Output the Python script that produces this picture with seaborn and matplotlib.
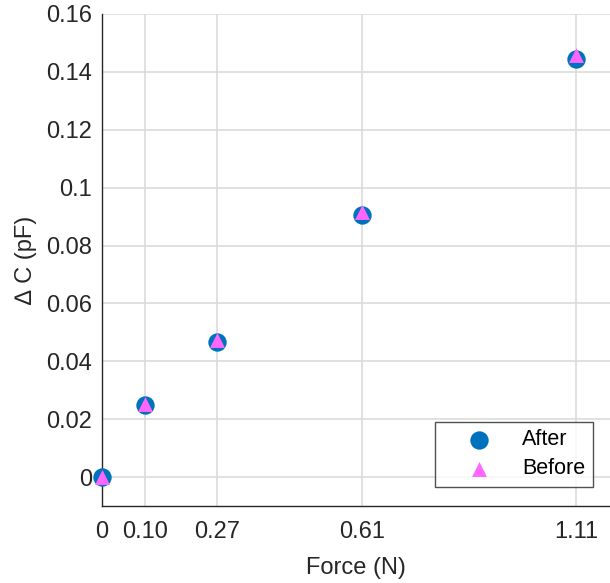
import matplotlib
matplotlib.use("Agg")
import matplotlib.pyplot as plt
import seaborn as sns
import pandas as pd

force = [0.0, 0.10, 0.27, 0.61, 1.11]
after = [0.0, 0.0249, 0.0468, 0.0906, 0.1445]
before = [0.0, 0.0252, 0.0472, 0.0915, 0.1460]
xticks = [0, 0.10, 0.27, 0.61, 1.11]
xticklabels = ["0", "0.10", "0.27", "0.61", "1.11"]
yticks = [0, 0.02, 0.04, 0.06, 0.08, 0.1, 0.12, 0.14, 0.16]
yticklabels = ["0", "0.02", "0.04", "0.06", "0.08", "0.1", "0.12", "0.14", "0.16"]

sns.set_style("white")
plt.rcParams['font.family'] = ['Liberation Sans', 'DejaVu Sans']

df = pd.DataFrame({
    "Force": force + force,
    "dC": after + before,
    "Series": ["After"] * len(force) + ["Before"] * len(force),
})

fig = plt.figure(figsize=(6.10, 5.83), dpi=100)
ax = fig.add_axes([102 / 610, 77 / 583, (610 - 102) / 610, (506 - 14) / 583])

sub_a = df[df.Series == "After"]
sub_b = df[df.Series == "Before"]
sns.scatterplot(data=sub_a, x="Force", y="dC", color="#0072BD", marker="o",
                s=175, linewidth=0, ax=ax, label="After", zorder=3, clip_on=False)
sns.scatterplot(data=sub_b, x="Force", y="dC", color="#FF66FF", marker="^",
                s=115, linewidth=0, ax=ax, label="Before", zorder=4, clip_on=False)

ax.set_xlim(0, 1.19)
ax.set_ylim(-0.01, 0.16)
ax.set_xticks(xticks)
ax.set_xticklabels(xticklabels)
ax.set_yticks(yticks)
ax.set_yticklabels(yticklabels)
ax.grid(True, color="#DCDCDC", linewidth=1.2)
ax.set_axisbelow(True)
ax.tick_params(direction="in", length=5, width=1, colors="#262626",
               labelsize=17, labelcolor="#262626")
ax.tick_params(axis="x", pad=11)
ax.tick_params(axis="y", pad=7)
for side in ["top", "right"]:
    ax.spines[side].set_visible(False)
for side in ["left", "bottom"]:
    ax.spines[side].set_color("#262626")
    ax.spines[side].set_linewidth(1)

ax.set_xlabel("Force (N)", fontsize=17, color="#262626", labelpad=10)
ax.set_ylabel("∆ C (pF)", fontsize=17, color="#262626", labelpad=7)

leg = ax.legend(loc="lower right",
                bbox_to_anchor=((593 - 102) / 508, (583 - 487 - 77) / 492),
                fontsize=15.5, frameon=True, fancybox=False, edgecolor="#262626",
                handletextpad=0.3, borderpad=0.35, labelspacing=0.38,
                handlelength=3.4, borderaxespad=0)
leg.get_frame().set_linewidth(1)
for t in leg.get_texts():
    t.set_color("#000000")

fig.savefig("out.png", dpi=100)
